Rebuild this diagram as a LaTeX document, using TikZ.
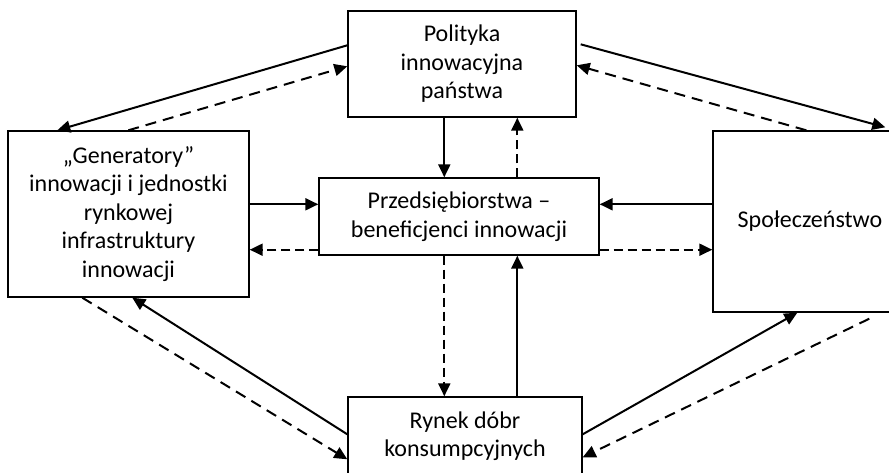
\documentclass[tikz,border=0pt]{standalone}
\usepackage{fontspec}
\setmainfont{Carlito}
\usetikzlibrary{arrows.meta,calc}
\tikzset{
  box/.style={draw, line width=1.4pt, inner sep=0pt, align=center,
    font=\fontsize{24}{28.5}\selectfont},
  tip/.style={-{Triangle[length=13pt,width=12pt]}},
  sol/.style={line width=2pt, tip},
  dsh/.style={line width=2pt, dash pattern=on 9pt off 5pt, tip},
  dshd/.style={line width=2pt, dash pattern=on 11pt off 7pt, tip}
}
\begin{document}
\begin{tikzpicture}[x=1pt,y=-1pt]
\useasboundingbox (0,0) rectangle (889,472);
\clip (0,0) rectangle (889,472);
\node[box, minimum width=228pt, minimum height=106pt] (pol) at (462,64) {Polityka\\innowacyjna\\państwa};
\node[box, minimum width=241pt, minimum height=166pt] (gen) at (128.5,214) {„Generatory”\\innowacji i jednostki\\rynkowej\\infrastruktury\\innowacji};
\node[box, minimum width=280pt, minimum height=77pt] (prz) at (459,216.5) {Przedsiębiorstwa –\\beneficjenci innowacji};
\node[box, minimum width=194pt, minimum height=181pt] (spo) at (810,221.5) {Społeczeństwo};
\node[box, minimum width=234pt, minimum height=78pt] (ryn) at (465,436) {Rynek dóbr\\konsumpcyjnych};
% top-left pair
\draw[sol] ($(pol.north west)+(0,35)$) -- ($(gen.north west)+(50,0)$);
\draw[dshd] ($(gen.north west)+(121,0)$) -- ($(pol.north west)+(0,56)$);
% Polityka - Przedsiebiorstwa
\coordinate (a3) at ($(pol.south west)+(97,0)$);
\draw[sol] (a3) -- (a3 |- prz.north);
\coordinate (a4) at ($(prz.north west)+(199,0)$);
\draw[dsh] (a4) -- (a4 |- pol.south);
% top-right pair
\draw[sol] ($(pol.north east)+(4,34)$) -- ($(spo.north west)+(173,-3)$);
\draw[dshd] ($(spo.north west)+(94,0)$) -- ($(pol.north east)+(0,55)$);
% Generatory - Przedsiebiorstwa
\coordinate (a7) at ($(gen.north east)+(0,74)$);
\draw[sol] (a7) -- (a7 -| prz.west);
\coordinate (a8) at ($(prz.south west)+(0,-6)$);
\draw[dsh] (a8) -- (a8 -| gen.east);
% Spoleczenstwo - Przedsiebiorstwa
\coordinate (a9) at ($(spo.north west)+(0,74)$);
\draw[sol] (a9) -- (a9 -| prz.east);
\coordinate (a10) at ($(prz.south east)+(0,-6)$);
\draw[dsh] (a10) -- (a10 -| spo.west);
% Przedsiebiorstwa - Rynek
\coordinate (a11) at ($(prz.south west)+(126,0)$);
\draw[dsh] (a11) -- (a11 |- ryn.north);
\coordinate (a12) at ($(ryn.north west)+(170,0)$);
\draw[sol] (a12) -- (a12 |- prz.south);
% bottom-left pair
\draw[sol] ($(ryn.north west)+(0,38)$) -- ($(gen.south west)+(125,0)$);
\draw[dshd] ($(gen.south west)+(75,0)$) -- ($(ryn.north west)+(0,63)$);
% bottom-right pair
\draw[sol] ($(ryn.north east)+(0,38)$) -- ($(spo.south west)+(85,0)$);
\coordinate (a16) at ($(spo.south west)+(157,6)$);
\draw[dshd] (a16) -- ($(ryn.north east)+(0,61)$);
\end{tikzpicture}
\end{document}
